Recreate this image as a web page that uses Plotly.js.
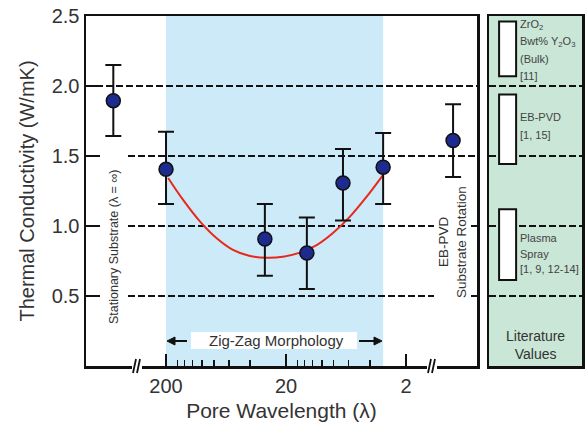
<!DOCTYPE html>
<html>
<head>
<meta charset="utf-8">
<script src="https://cdn.plot.ly/plotly-3.0.1.min.js"></script>
<style>html,body{margin:0;padding:0;background:#fff;}#chart{width:585px;height:423px;}</style>
</head>
<body>
<div id="chart"></div>
<script>
// ---- data ----
// zig-zag morphology samples: pore wavelength (λ) and thermal conductivity (W/mK)
const lambdaZZ = [200, 30, 13.4, 6.7, 3.1];
const kZZ      = [1.405, 0.907, 0.807, 1.307, 1.42];
const kZZHigh  = [1.674, 1.157, 1.06, 1.55, 1.664];
const kZZLow   = [1.157, 0.645, 0.55, 1.04, 1.157];

// reference coatings drawn outside the axis breaks
const sideNames = ['Stationary Substrate (λ = ∞)', 'EB-PVD', 'Substrate Rotation'];
const sidePlotLambda = [550, 0.81];   // plotting positions beyond the axis breaks
const kSide     = [1.895, 1.61];
const kSideHigh = [2.15, 1.87];
const kSideLow  = [1.643, 1.35];

// fitted curve
const fitLambda = [192, 144, 104, 75.6, 55.3, 39.9, 29.0, 21.2, 15.3, 11.1, 8.12, 5.86, 4.25, 3.11];
const fitK      = [1.343, 1.186, 1.031, 0.912, 0.829, 0.786, 0.774, 0.781, 0.81, 0.864, 0.95, 1.067, 1.21, 1.364];

// literature values (ranges)
const litLines = [
  ['ZrO<sub>2</sub>', 'Bwt% Y<sub>2</sub>O<sub>3</sub>', '(Bulk)', '[11]'],
  ['EB-PVD', '[1, 15]'],
  ['Plasma', 'Spray', '[1, 9, 12-14]']
];
const litLow  = [2.07, 1.443, 0.614];
const litHigh = [2.46, 1.94, 1.12];

// axis ticks
const xTickVals = [200, 20, 2];
const xTickText = ['200', '20', '2'];
const xMinorVals = [160, 140, 120, 100, 80, 60, 40, 16, 14, 12, 10, 8, 6, 4];
const yTickVals = [0.5, 1.0, 1.5, 2.0, 2.5];
const yTickText = ['0.5', '1.0', '1.5', '2.0', '2.5'];
const bandLambda = [200, 3.1];

// ---- layout helpers (pixel geometry of the figure) ----
const FONT = 'Liberation Sans, Arial, Helvetica, sans-serif';
const TXT = '#333333';
const L = 86, R = 582, T = 16, B = 366;
const mainRight = 477, panelLeft = 489;
const xd = px => (px - L) / (mainRight - L);        // 'x domain'
const pp = px => (px - L) / (R - L);                 // paper x
const py = y => (B - y) / (B - T);                   // paper y
const yv = y => (B - y) / (B - T) * 2.5;             // y data value of a pixel row
const labelFirstRow = [25, 117, 238];                // pixel row of first label line
const labelStep = [17, 18, 15.5];                    // line spacing per label block

const traces = [
  {
    x: fitLambda, y: fitK, type: 'scatter', mode: 'lines',
    line: {color: '#e8281c', width: 2, shape: 'spline'},
    xaxis: 'x', yaxis: 'y', hoverinfo: 'skip', showlegend: false
  },
  {
    x: lambdaZZ, y: kZZ, type: 'scatter', mode: 'markers',
    marker: {color: '#1d2a8e', size: 14, line: {color: '#111', width: 1.5}},
    error_y: {type: 'data', symmetric: false,
      array: kZZHigh.map((v, i) => v - kZZ[i]),
      arrayminus: kZZ.map((v, i) => v - kZZLow[i]),
      color: '#111', thickness: 2, width: 8},
    xaxis: 'x', yaxis: 'y', showlegend: false
  },
  {
    x: sidePlotLambda, y: kSide, type: 'scatter', mode: 'markers',
    marker: {color: '#1d2a8e', size: 14, line: {color: '#111', width: 1.5}},
    error_y: {type: 'data', symmetric: false,
      array: kSideHigh.map((v, i) => v - kSide[i]),
      arrayminus: kSide.map((v, i) => v - kSideLow[i]),
      color: '#111', thickness: 2, width: 8},
    xaxis: 'x', yaxis: 'y', showlegend: false
  },
  {
    x: litLow.map(() => 0.2), y: litHigh.map((h, i) => h - litLow[i]), base: litLow,
    type: 'bar', width: 0.183,
    marker: {color: '#ffffff', line: {color: '#111', width: 2}},
    xaxis: 'x2', yaxis: 'y2', showlegend: false, hoverinfo: 'skip'
  }
];

const dash = '7px,3px';
const shapes = [
  // zig-zag band
  {type: 'rect', xref: 'x', yref: 'y domain', x0: bandLambda[0], x1: bandLambda[1], y0: 0, y1: 1,
   fillcolor: '#cdeaf8', line: {width: 0}, layer: 'below'},
  // horizontal dashed guides (main panel)
  {type: 'line', xref: 'x domain', yref: 'y', x0: 0, x1: 1, y0: 2.0, y1: 2.0, line: {color: '#111', width: 2, dash: dash}, layer: 'below'},
  {type: 'line', xref: 'x domain', yref: 'y', x0: xd(128), x1: 1, y0: 1.5, y1: 1.5, line: {color: '#111', width: 2, dash: dash}, layer: 'below'},
  {type: 'line', xref: 'x domain', yref: 'y', x0: xd(128), x1: xd(434), y0: 1.0, y1: 1.0, line: {color: '#111', width: 2, dash: dash}, layer: 'below'},
  {type: 'line', xref: 'x domain', yref: 'y', x0: xd(128), x1: xd(434), y0: 0.5, y1: 0.5, line: {color: '#111', width: 2, dash: dash}, layer: 'below'},
  {type: 'line', xref: 'x domain', yref: 'y', x0: xd(471), x1: 1, y0: 1.0, y1: 1.0, line: {color: '#111', width: 2}, layer: 'below'},
  {type: 'line', xref: 'x domain', yref: 'y', x0: xd(471), x1: 1, y0: 0.5, y1: 0.5, line: {color: '#111', width: 2}, layer: 'below'},
  // white label box
  {type: 'rect', xref: 'x domain', yref: 'y', x0: xd(191), x1: xd(357), y0: 0.121, y1: 0.243, fillcolor: '#ffffff', line: {width: 0}, layer: 'below'},
  // literature panel
  {type: 'rect', xref: 'x2 domain', yref: 'y2 domain', x0: 0, x1: 1, y0: 0, y1: 1, fillcolor: '#c9e6d6', line: {width: 0}, layer: 'below'},
];
[2.0, 1.5, 1.0, 0.5].forEach(v => shapes.push({type: 'line', xref: 'x2 domain', yref: 'y2', x0: 0, x1: 1, y0: v, y1: v,
  line: {color: '#111', width: 2, dash: dash}, layer: 'below'}));
// arrows of the zig-zag label
const ay = 341;
shapes.push({type: 'line', xref: 'paper', yref: 'paper', x0: pp(172), x1: pp(187), y0: py(ay), y1: py(ay), line: {color: '#111', width: 2}});
shapes.push({type: 'path', xref: 'paper', yref: 'paper', fillcolor: '#111', line: {color: '#111', width: 1},
  path: `M ${pp(167)} ${py(ay)} L ${pp(175)} ${py(ay - 4)} L ${pp(175)} ${py(ay + 4)} Z`});
shapes.push({type: 'line', xref: 'paper', yref: 'paper', x0: pp(359), x1: pp(376), y0: py(ay), y1: py(ay), line: {color: '#111', width: 2}});
shapes.push({type: 'path', xref: 'paper', yref: 'paper', fillcolor: '#111', line: {color: '#111', width: 1},
  path: `M ${pp(382)} ${py(ay)} L ${pp(374)} ${py(ay - 4)} L ${pp(374)} ${py(ay + 4)} Z`});
// axis breaks
[137, 432].forEach(c => {
  shapes.push({type: 'rect', xref: 'paper', yref: 'paper', x0: pp(c - 5), x1: pp(c + 5), y0: py(373), y1: py(359),
    fillcolor: '#ffffff', line: {width: 0}, layer: 'above'});
  shapes.push({type: 'path', xref: 'paper', yref: 'paper',
    path: `M ${pp(c - 4)} ${py(373)} L ${pp(c - 1)} ${py(359)}`, line: {color: '#111', width: 1.8}, layer: 'above'});
  shapes.push({type: 'path', xref: 'paper', yref: 'paper',
    path: `M ${pp(c)} ${py(373)} L ${pp(c + 3)} ${py(359)}`, line: {color: '#111', width: 1.8}, layer: 'above'});
});

const annotations = [
  {xref: 'x domain', yref: 'y', x: xd(114), y: 0.85, text: sideNames[0], textangle: -90, showarrow: false,
   xanchor: 'center', yanchor: 'middle', font: {family: FONT, size: 12.5, color: TXT}},
  {xref: 'x domain', yref: 'y', x: xd(443), y: 0.885, text: sideNames[1], textangle: -90, showarrow: false,
   xanchor: 'center', yanchor: 'middle', font: {family: FONT, size: 13.5, color: TXT}},
  {xref: 'x domain', yref: 'y', x: xd(461), y: 0.885, text: sideNames[2], textangle: -90, showarrow: false,
   xanchor: 'center', yanchor: 'middle', font: {family: FONT, size: 13.5, color: TXT}},
  {xref: 'x domain', yref: 'y', x: xd(276), y: 0.182, text: 'Zig-Zag Morphology', showarrow: false,
   font: {family: FONT, size: 15, color: TXT}},
  {xref: 'x2', yref: 'y2', x: 0.5, y: 0.15, text: 'Literature<br>Values', showarrow: false,
   font: {family: FONT, size: 14, color: TXT}}
];
litLines.forEach((lines, i) => lines.forEach((t, j) => annotations.push({
  xref: 'x2', yref: 'y2', x: 0.31, y: yv(labelFirstRow[i] + j * labelStep[i]), text: t,
  xanchor: 'left', yanchor: 'middle', align: 'left', showarrow: false, font: {family: FONT, size: 11, color: '#444'}})));

const layout = {
  width: 585, height: 423,
  margin: {l: L, r: 585 - R, t: T, b: 423 - B, pad: 0},
  paper_bgcolor: '#ffffff', plot_bgcolor: 'rgba(0,0,0,0)',
  font: {family: FONT, color: TXT},
  showlegend: false,
  xaxis: {
    type: 'log', domain: [0, (mainRight - L) / (R - L)], anchor: 'y',
    range: [2.968, -0.291],
    tickmode: 'array', tickvals: xTickVals, ticktext: xTickText,
    ticks: 'inside', ticklen: 12, tickwidth: 2, tickcolor: '#111',
    minor: {tickmode: 'array', tickvals: xMinorVals, ticks: 'inside', ticklen: 6, tickwidth: 1.5, tickcolor: '#111', showgrid: false},
    showline: true, linecolor: '#111', linewidth: 2.5, mirror: true,
    showgrid: false, zeroline: false,
    tickfont: {family: FONT, size: 20, color: TXT},
    title: {text: 'Pore Wavelength (λ)', font: {family: FONT, size: 21, color: TXT}, standoff: 8}
  },
  yaxis: {
    domain: [0, 1], anchor: 'x', range: [0, 2.5],
    tickmode: 'array', tickvals: yTickVals, ticktext: yTickText,
    ticks: 'inside', ticklen: 14, tickwidth: 2.5, tickcolor: '#111',
    showline: true, linecolor: '#111', linewidth: 2.5, mirror: true,
    showgrid: false, zeroline: false,
    tickfont: {family: FONT, size: 20, color: TXT},
    title: {text: 'Thermal Conductivity (W/mK)', font: {family: FONT, size: 20, color: TXT}, standoff: 12}
  },
  xaxis2: {
    domain: [(panelLeft - L) / (R - L), 1], anchor: 'y2', range: [0, 1],
    showticklabels: false, ticks: '', showgrid: false, zeroline: false,
    showline: true, linecolor: '#111', linewidth: 2.5, mirror: true
  },
  yaxis2: {
    domain: [0, 1], anchor: 'x2', range: [0, 2.5],
    showticklabels: false, ticks: '', showgrid: false, zeroline: false,
    showline: true, linecolor: '#111', linewidth: 2.5, mirror: true
  },
  shapes: shapes,
  annotations: annotations
};

Plotly.newPlot('chart', traces, layout, {staticPlot: true, displayModeBar: false});
</script>
</body>
</html>
